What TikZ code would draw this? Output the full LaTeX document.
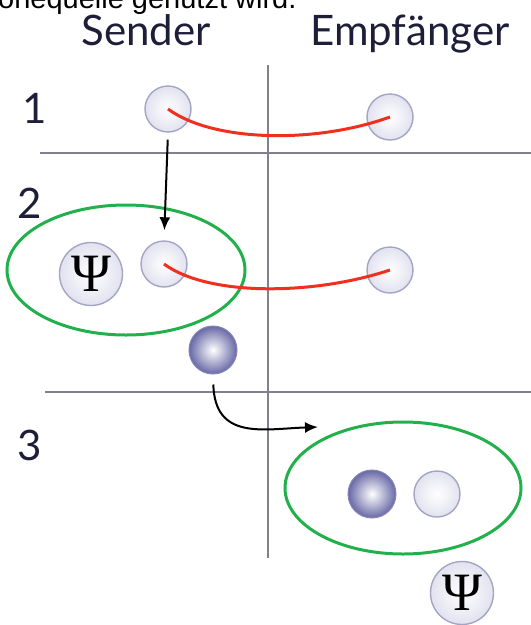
\documentclass[tikz,border=0pt]{standalone}
\usepackage{fontspec}
\setmainfont{Liberation Serif}
\setsansfont{Lato}
\newfontfamily\capfont{Liberation Sans}
\usepackage{tikz}
\usetikzlibrary{positioning,arrows.meta,shapes.geometric}
\usepackage{xcolor}
\definecolor{entangle}{HTML}{F0301E}
\definecolor{pairring}{HTML}{22B04C}
\definecolor{gridline}{HTML}{80808E}
\definecolor{rim}{HTML}{A4A4C4}
\definecolor{haze}{HTML}{E2E2F0}
\definecolor{slate}{HTML}{6868A6}
\definecolor{ink}{HTML}{1E1E38}

\tikzset{
  qubit/.style={circle, draw=rim, line width=1.4pt, minimum size=46pt, inner sep=0pt,
    shading=radial, inner color=white, outer color=haze},
  ball/.style={circle, draw=slate!80, line width=1pt, minimum size=48pt, inner sep=0pt,
    shading=radial, inner color=white, outer color=slate},
  psi/.style={qubit, minimum size=63pt, font=\fontsize{54}{54}\selectfont},
  pair/.style={ellipse, draw=pairring, line width=3pt, inner sep=0pt},
  head/.style={anchor=base, text=ink, font=\sffamily\fontsize{42}{42}\selectfont, inner sep=0pt},
  stepno/.style={anchor=base west, text=ink, font=\sffamily\fontsize{42}{42}\selectfont, inner sep=0pt},
  link/.style={entangle, line width=3pt},
  hop/.style={-{Latex[length=13pt, width=11pt]}, line width=2pt, black}
}

\begin{document}
\begin{tikzpicture}[x=1pt, y=-1pt]
    \useasboundingbox (0,0) rectangle (531,625);
    \clip (0,0) rectangle (531,625);
    \node[anchor=base west, inner sep=0pt, font=\capfont\fontsize{29}{29}\selectfont] (caption) at (-2,8) {onequelle genutzt wird.};
    \node[head] (sender) at (146,45) {Sender};
    \node[head] (empf) at (410,45) {Empfänger};
    % grid
    \draw[gridline, line width=1.3pt] (268,65) -- (268,558);
    \draw[gridline, line width=1.3pt] (40,153) -- (531,153);
    \draw[gridline, line width=1.3pt] (45,392) -- (531,392);
    \node[stepno] (n1) at (22,123) {1};
    \node[stepno] (n2) at (17,218) {2};
    \node[stepno] (n3) at (17,460) {3};
    % step 1
    \node[qubit] (s1) at (168,109) {};
    \node[qubit] (r1) at (390,117) {};
    \draw[link] (s1.center) .. controls +(45,33) and +(-75,27) .. (r1.center);
    % step 2
    \node[pair, minimum width=238pt, minimum height=130pt] (e2) at (126,270) {};
    \node[psi] (psiA) at (91,274) {Ψ};
    \node[qubit] (s2) at (164,264) {};
    \node[qubit] (r2) at (390,270) {};
    \draw[link] (s2.center) .. controls +(45,33) and +(-75,25) .. (r2.center);
    \draw[hop, shorten <=7pt, shorten >=10pt] (s1.south) -- (s2.north);
    \node[ball] (tele) at (213,350) {};
    % step 3
    \node[pair, minimum width=236pt, minimum height=132pt] (e3) at (403,488) {};
    \node[ball] (b3) at (372,494) {};
    \node[qubit] (r3) at (437,494) {};
    \node[psi] (psiB) at (462,593) {Ψ};
    \coordinate (land) at (318,427);
    \draw[hop, shorten <=10pt] (tele.south) .. controls +(2,66) and +(-55,2) .. (land);
  \end{tikzpicture}
\end{document}
